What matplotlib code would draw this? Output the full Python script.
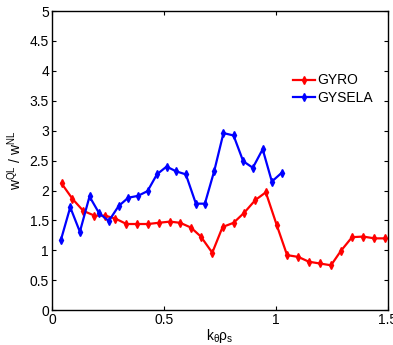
import matplotlib
matplotlib.use("Agg")
import matplotlib.pyplot as plt

plt.rcParams['font.family'] = ['Liberation Sans', 'DejaVu Sans']
plt.rcParams['mathtext.fontset'] = 'custom'
plt.rcParams['mathtext.rm'] = 'Liberation Sans'
plt.rcParams['mathtext.it'] = 'Liberation Sans'

# GYRO (red)
gyro_k = [0.043, 0.092, 0.140, 0.190, 0.238, 0.284, 0.333, 0.381, 0.429, 0.476,
          0.527, 0.573, 0.621, 0.665, 0.716, 0.762, 0.811, 0.859, 0.908, 0.955,
          1.004, 1.050, 1.100, 1.147, 1.196, 1.246, 1.290, 1.340, 1.390, 1.440, 1.487]
gyro_w = [2.12, 1.86, 1.66, 1.58, 1.58, 1.53, 1.44, 1.44, 1.44, 1.46,
          1.48, 1.46, 1.38, 1.23, 0.96, 1.39, 1.46, 1.63, 1.84, 1.97,
          1.42, 0.92, 0.89, 0.81, 0.78, 0.75, 0.99, 1.22, 1.23, 1.20, 1.20]

# GYSELA (blue)
gysela_k = [0.040, 0.082, 0.125, 0.168, 0.211, 0.254, 0.298, 0.341, 0.384, 0.427,
            0.469, 0.512, 0.555, 0.598, 0.643, 0.683, 0.725, 0.766, 0.811, 0.854,
            0.897, 0.941, 0.982, 1.027]
gysela_w = [1.17, 1.72, 1.31, 1.90, 1.62, 1.49, 1.74, 1.88, 1.91, 1.99,
            2.27, 2.40, 2.32, 2.27, 1.78, 1.78, 2.33, 2.96, 2.92, 2.49,
            2.38, 2.69, 2.15, 2.30]

fig = plt.figure(figsize=(3.93, 3.45), dpi=100)
ax = fig.add_axes([0.132, 0.101, 0.855, 0.867])

ax.plot(gyro_k, gyro_w, color='red', lw=1.6, marker='d', ms=4, label='GYRO')
ax.plot(gysela_k, gysela_w, color='blue', lw=1.6, marker='d', ms=4, label='GYSELA')

ax.set_xlim(0, 1.5)
ax.set_ylim(0, 5)
ax.set_xticks([0, 0.5, 1, 1.5])
ax.set_xticklabels(['0', '0.5', '1', '1.5'])
ax.set_yticks([0, 0.5, 1, 1.5, 2, 2.5, 3, 3.5, 4, 4.5, 5])
ax.set_yticklabels(['0', '0.5', '1', '1.5', '2', '2.5', '3', '3.5', '4', '4.5', '5'])
ax.tick_params(direction='in', top=True, right=True, labelsize=10, length=3, pad=2)
for s in ax.spines.values():
    s.set_linewidth(1.0)

ax.set_xlabel(r'k$_\theta\rho_s$', fontsize=10, labelpad=0)
ax.set_ylabel(r'w$^{QL}$ / w$^{NL}$', fontsize=10, labelpad=4)

ax.legend(loc='upper left', bbox_to_anchor=(0.70, 0.81), frameon=False,
          fontsize=10, handlelength=1.6, handletextpad=0.2, labelspacing=0.25,
          borderaxespad=0)

fig.savefig('out.png', dpi=100)
